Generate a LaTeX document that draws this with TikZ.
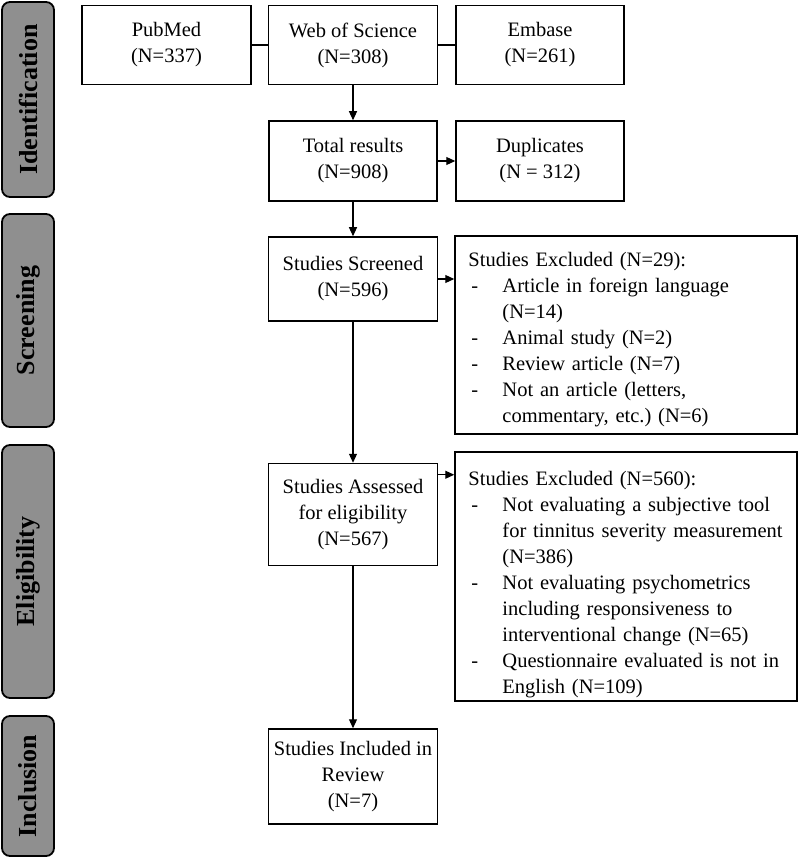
\documentclass[tikz,border=0pt]{standalone}
\usepackage{fontspec}
\setmainfont{Liberation Serif}
\usetikzlibrary{arrows.meta}
\definecolor{sidegray}{RGB}{143,143,143}
\newcommand{\dashitem}{\makebox[34pt][l]{\hspace{3pt}-}}
\newcommand{\contline}{\hspace*{34pt}}
\frenchspacing
\begin{document}
\begin{tikzpicture}[x=1pt,y=-1pt,
  box/.style={draw, line width=1.5pt, inner sep=0pt, align=center,
    font=\fontsize{20.5}{26}\selectfont},
  exbox/.style={draw, line width=1.5pt, inner sep=0pt},
  extext/.style={inner sep=0pt, anchor=north west, align=left, text width=324pt,
    font=\fontsize{20.5}{26}\selectfont},
  side/.style={draw, line width=1.8pt, fill=sidegray, rounded corners=8pt,
    rotate=90, inner sep=0pt, minimum height=52pt,
    font=\fontsize{26}{30}\selectfont\bfseries},
  conn/.style={line width=1.1pt},
  arr/.style={conn, -{Triangle[length=9pt,width=8pt]}}]
\useasboundingbox (0,0) rectangle (800,858);

% side labels
\node[side, minimum width=195pt] (sid) at (28,99.5) {Identification};
\node[side, minimum width=213pt] (sscr) at (28,320.5) {Screening};
\node[side, minimum width=253pt] (sel) at (28,571.5) {Eligibility};
\node[side, minimum width=140pt] (sinc) at (28,786) {Inclusion};

% boxes
\node[box, minimum width=169pt, minimum height=79pt] (pub) at (166.5,45) {PubMed\\(N=337)};
\node[box, minimum width=169pt, minimum height=79pt] (wos) at (353,45) {Web of Science\\(N=308)};
\node[box, minimum width=168pt, minimum height=79pt] (emb) at (540,45) {Embase\\(N=261)};
\node[box, minimum width=168pt, minimum height=80pt] (tot) at (353,161) {Total results\\(N=908)};
\node[box, minimum width=168pt, minimum height=80pt] (dup) at (540,161) {Duplicates\\(N = 312)};
\node[box, minimum width=169pt, minimum height=84pt] (scr) at (353,279) {Studies Screened\\(N=596)};
\node[exbox, minimum width=342pt, minimum height=198pt] (ex1) at (626,335) {};
\node[extext] (ex1t) at ([xshift=14pt,yshift=-17pt]ex1.north west) {Studies Excluded (N=29):\\
\dashitem Article in foreign language\\
\contline (N=14)\\
\dashitem Animal study (N=2)\\
\dashitem Review article (N=7)\\
\dashitem Not an article (letters,\\
\contline commentary, etc.) (N=6)};
\node[box, minimum width=169pt, minimum height=102pt] (ass) at (353,514.5) {Studies Assessed\\for eligibility\\(N=567)};
\node[exbox, minimum width=342pt, minimum height=249pt] (ex2) at (626,576.5) {};
\node[extext] (ex2t) at ([xshift=14pt,yshift=-20pt]ex2.north west) {Studies Excluded (N=560):\\
\dashitem Not evaluating a subjective tool\\
\contline for tinnitus severity measurement\\
\contline (N=386)\\
\dashitem Not evaluating psychometrics\\
\contline including responsiveness to\\
\contline interventional change (N=65)\\
\dashitem Questionnaire evaluated is not in\\
\contline English (N=109)};
\node[box, minimum width=169pt, minimum height=95pt] (inc) at (353,776.5) {Studies Included in\\Review\\(N=7)};

% connectors
\draw[conn] (pub) -- (wos);
\draw[conn] (wos) -- (emb);
\draw[arr] (wos) -- (tot);
\draw[arr] (tot) -- (dup);
\draw[arr] (tot) -- (scr);
\draw[arr] (scr.east) -- (scr.east -| ex1.west);
\draw[arr] (scr) -- (ass);
\draw[arr] ([yshift=-12pt]ass.north east) -- ([yshift=-12pt]ass.north east -| ex2.west);
\draw[arr] (ass) -- (inc);
\end{tikzpicture}
\end{document}
